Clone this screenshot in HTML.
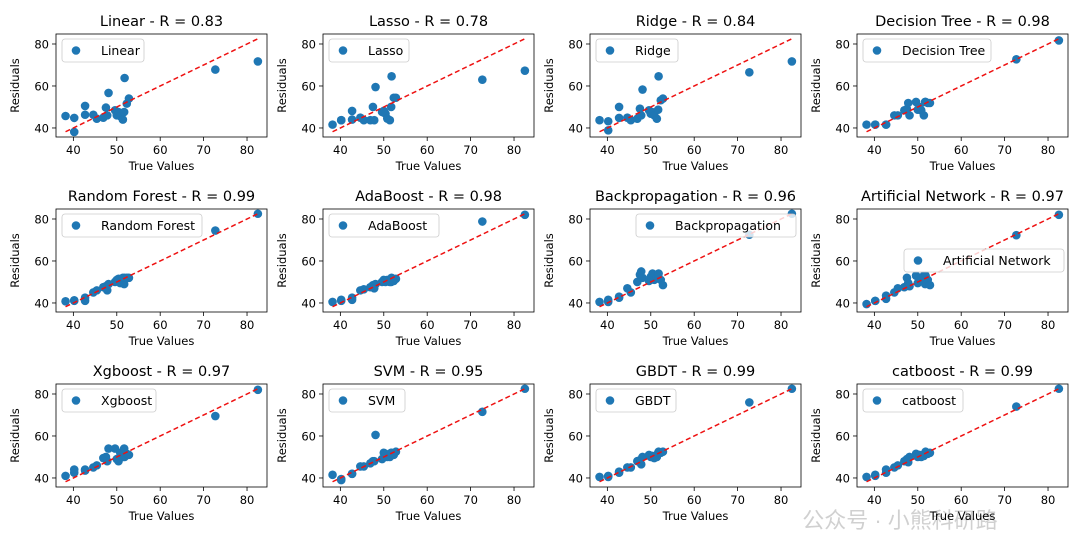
<!DOCTYPE html>
<html><head><meta charset="utf-8">
<style>
body{margin:0;background:#fff;}
svg{display:block;font-family:"DejaVu Sans","Liberation Sans",sans-serif;}
</style></head>
<body>
<svg id="fig" width="1080" height="540" viewBox="0 0 1080 540" xmlns="http://www.w3.org/2000/svg">
<rect width="1080" height="540" fill="#fff"/>
<text x="900" y="528" font-size="22" fill="#d0d0d0" text-anchor="middle" font-family="'Liberation Sans','Noto Sans CJK SC',sans-serif">公众号 · 小熊科研路</text>
</svg>
<script>
const trueValues = [38.2,40.2,40.2,42.7,42.7,44.6,45.4,46.9,47.5,47.8,48.1,49.6,50,50.4,50.8,51.4,51.7,51.8,52.3,52.8,72.7,82.5];
const modelNames = ["Linear","Lasso","Ridge","Decision Tree","Random Forest","AdaBoost","Backpropagation","Artificial  Network","Xgboost","SVM","GBDT","catboost"];
const titles = ["Linear - R = 0.83","Lasso  - R = 0.78","Ridge  - R = 0.84","Decision Tree - R = 0.98","Random Forest - R = 0.99","AdaBoost - R = 0.98","Backpropagation  - R = 0.96","Artificial  Network - R = 0.97","Xgboost - R = 0.97","SVM - R = 0.95","GBDT - R = 0.99","catboost - R = 0.99"];
const predLinear = [45.7,38.1,44.8,50.5,46.3,46.3,44.4,44.9,49.7,46,56.7,48.4,46,47.6,45.6,44,47.6,63.8,51.6,54,67.8,71.7];
const predLasso = [41.6,43.7,43.7,48.1,44,44.9,43.7,43.7,50,43.7,59.5,47.6,48.1,46.8,44.5,43.7,50,64.6,54.4,54.4,63,67.3];
const predRidge = [43.7,38.9,43.2,50,44.8,44.9,43.7,44.4,49.2,46,58.3,48.4,46.8,47.5,46,44.4,48.7,64.6,53.2,54,66.5,71.7];
const predTree = [41.6,41.6,41.6,41.6,41.6,46,46,48.4,49,51.9,46,52.4,48.7,50,48.4,46,52.4,52.4,51.9,51.9,72.7,81.7];
const predForest = [40.8,41.3,41,42.5,41,45,46,47.5,48,46,49,50,51,51.5,49.5,52,49,52,52,52,74.5,82.5];
const predAda = [40.5,41.5,41,42.5,41.5,46,46.5,47.5,48.5,47,49,50,51,50,51,50,50,52,50.5,51.5,78.8,82];
const predBP = [40.5,41.5,40.5,43,42.5,47,45,50,53.5,55,52,50.5,52.5,54,51,52,53,54,51,48.5,72.5,82.5];
const predANN = [39.5,41,41,43.5,42,45,47,47.5,52,49.5,48,53,49.5,52,51.5,53,49,53,51,48.5,72.3,82];
const predXgb = [41,42.5,44,44,43.5,45,46,49.5,50,48,54,54,49,48,52,50,54,50,51.5,51,69.5,82];
const predSVM = [41.5,39,39.5,42,42,45.5,45.5,47,48,48,60.5,49,52,51.5,50,50,52,52,51,52.5,71.5,82.5];
const predGBDT = [40.5,40.5,41,43,42.5,45,45,48,48.5,46.5,50,51,50,50.5,49.5,50,52,52.5,52,52.5,76,82.5];
const predCat = [40.5,41.5,41,42.5,44,45,46,48,49,47.5,50,51.5,50,51,50,50.5,52,52.5,51.5,52,74,82.5];
const xTicks = [40,50,60,70,80];
const yTicks = [40,60,80];
const allPreds = [predLinear,predLasso,predRidge,predTree,predForest,predAda,predBP,predANN,predXgb,predSVM,predGBDT,predCat];

const NS="http://www.w3.org/2000/svg";
const svg=document.getElementById('fig');
function mk(tag,attrs,parent){const e=document.createElementNS(NS,tag);for(const k in attrs)e.setAttribute(k,attrs[k]);(parent||svg).appendChild(e);return e;}
const W=211,H=103,colX=[56,323,590,857],rowY=[34,209,384];
const xmin=36.0,xmax=84.6,ymin=35.7,ymax=84.76;
const legendW=[82,80,82,128,140,110,160,160,94,76,80,100];
for(let i=0;i<12;i++){
  const L=colX[i%4],T=rowY[Math.floor(i/4)];
  const sx=v=>L+(v-xmin)/(xmax-xmin)*W;
  const sy=v=>T+H-(v-ymin)/(ymax-ymin)*H;
  const g=mk('g',{});
  
  
  const t=mk('text',{x:L+W/2,y:T-8,'font-size':14.5,'text-anchor':'middle',fill:'#000','xml:space':'preserve'},g);t.textContent=titles[i];
  
  
  xTicks.forEach(v=>{const x=sx(v);mk('line',{x1:x,x2:x,y1:T+H,y2:T+H+4,stroke:'#000','stroke-width':0.8},g);
    const tl=mk('text',{x:x,y:T+H+17,'font-size':11.5,'text-anchor':'middle'},g);tl.textContent=v;
    
    });
  yTicks.forEach(v=>{const y=sy(v);mk('line',{x1:L-4,x2:L,y1:y,y2:y,stroke:'#000','stroke-width':0.8},g);
    const tl=mk('text',{x:L-7,y:y+4.5,'font-size':11.5,'text-anchor':'end'},g);tl.textContent=v;
    
    });
  const xl=mk('text',{x:L+W/2,y:T+H+33,'font-size':11.5,'text-anchor':'middle'},g);xl.textContent='True Values';
  
  
  const yl=mk('text',{x:0,y:0,'font-size':11.5,'text-anchor':'middle',transform:`translate(${L-37},${T+H/2}) rotate(-90)`},g);yl.textContent='Residuals';
  
  
  const p=allPreds[i];
  p.forEach((v,j)=>{const c=mk('circle',{cx:sx(trueValues[j]),cy:sy(v),r:4.3,fill:'#1f77b4'},g);
    
    });
  const mn=Math.min(...trueValues),mx=Math.max(...trueValues);
  const ln=mk('line',{x1:sx(mn),y1:sy(mn),x2:sx(mx),y2:sy(mx),stroke:'#ee1111','stroke-width':1.5,'stroke-dasharray':'5,3'},g);
  
  
  mk('rect',{x:L,y:T,width:W,height:H,fill:'none',stroke:'#000','stroke-width':0.8},g);
  let lx=L+6,ly=T+5;
  if(i===6){lx=L+W-legendW[i]-5;ly=T+5;}
  if(i===7){lx=L+W-legendW[i]-4;ly=T+40;}
  const lg=mk('g',{},g);
  
  
  mk('rect',{x:lx,y:ly,width:legendW[i],height:23,rx:3,fill:'#fff','fill-opacity':0.8,stroke:'#ccc','stroke-width':0.8},lg);
  mk('circle',{cx:lx+14,cy:ly+11.5,r:4.3,fill:'#1f77b4'},lg);
  const lt=mk('text',{x:lx+39,y:ly+16,'font-size':12.5,'xml:space':'preserve'},lg);lt.textContent=modelNames[i];
  
  
}
</script>
</body></html>
